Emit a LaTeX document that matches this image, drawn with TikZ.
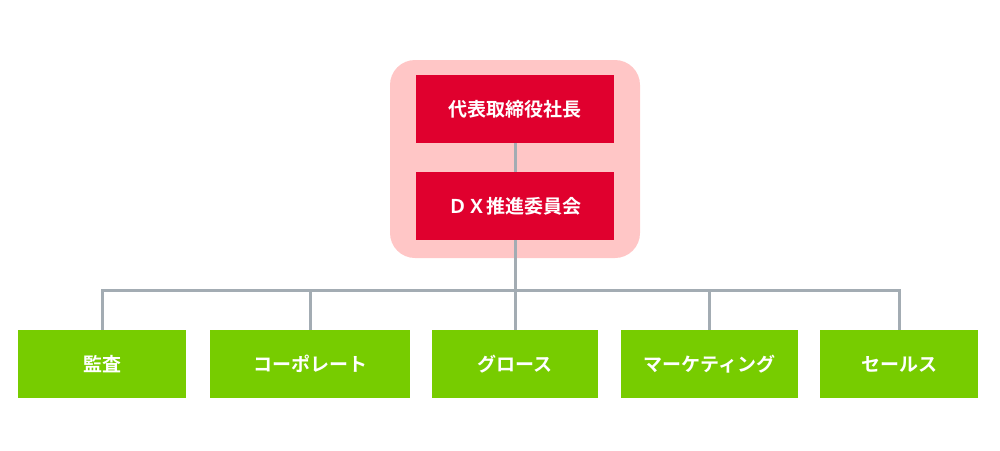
\documentclass[tikz,border=0pt]{standalone}
\usepackage{fontspec}
\newfontfamily\cjk{Noto Sans CJK JP Bold}
\begin{document}
\begin{tikzpicture}[x=1pt,y=-1pt,
 red/.style={fill=red!85!black,fill=rd,draw=none,minimum width=198pt,minimum height=68pt,font=\cjk\fontsize{19}{19}\selectfont,text=white,inner sep=0},
 grn/.style={fill=gr,draw=none,minimum height=68pt,font=\cjk\fontsize{19}{19}\selectfont,text=white,inner sep=0},
 ln/.style={draw=lg,line width=3pt}]
\definecolor{rd}{HTML}{E0002E}
\definecolor{pk}{HTML}{FFC6C6}
\definecolor{gr}{HTML}{77CC00}
\definecolor{lg}{HTML}{A3ACB3}
\useasboundingbox (0,0) rectangle (1000,450);
\fill[pk,rounded corners=25pt] (390,60) rectangle (640,258);
\node[red] (ceo) at (515,109) {代表取締役社長};
\node[red] (dx) at (515,206) {ＤＸ推進委員会};
\coordinate (j) at (515,290);
\node[grn,minimum width=168pt] (g1) at (102,364) {監査};
\node[grn,minimum width=200pt] (g2) at (310,364) {コーポレート};
\node[grn,minimum width=166pt] (g3) at (515,364) {グロース};
\node[grn,minimum width=177pt] (g4) at (709.5,364) {マーケティング};
\node[grn,minimum width=158pt] (g5) at (899,364) {セールス};
\draw[ln] (ceo) -- (dx);
\draw[ln] (dx) -- (j);
\draw[ln] (g1.north) -- (g1.north|-j) -- (g5.north|-j) -- (g5.north);
\foreach \g in {g2,g3,g4} \draw[ln] (\g.north) -- (\g.north|-j);
\end{tikzpicture}
\end{document}
